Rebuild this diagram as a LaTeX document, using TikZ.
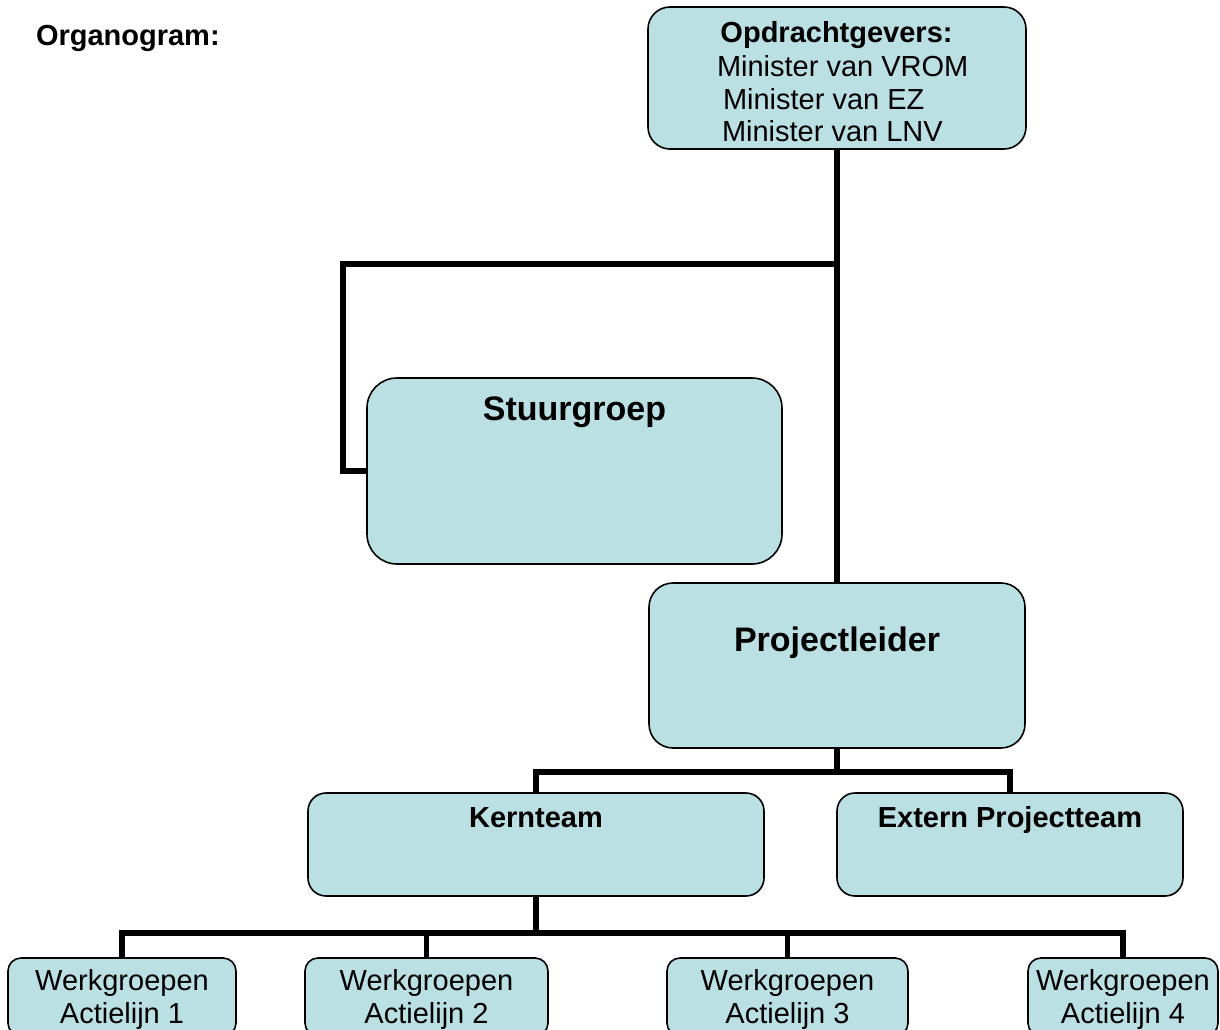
\documentclass[tikz,border=0pt]{standalone}
\usepackage{fontspec}
\setmainfont{Liberation Sans}
\definecolor{boxfill}{HTML}{BBE0E3}
\begin{document}
\begin{tikzpicture}[x=1pt,y=-1pt,
  box/.style={draw=black, line width=1.6pt, fill=boxfill, rounded corners=#1, inner sep=0pt, outer sep=0pt},
  box/.default=20pt,
  txt/.style={font=\fontsize{29}{33}\selectfont, inner sep=0pt, outer sep=0pt},
  bigtxt/.style={font=\fontsize{34}{40}\selectfont\bfseries, inner sep=0pt, outer sep=0pt},
  conn/.style={draw=black, line width=5.5pt, line join=miter}]
\useasboundingbox (0,0) rectangle (1220,1030);
\clip (0,0) rectangle (1220,1030);
\fill[white] (0,0) rectangle (1220,1030);

% title
\node[txt, anchor=base west] (title) at (36,46) {\bfseries Organogram:};

% boxes
\node[box=22pt, minimum width=378pt, minimum height=142pt] (opd) at (837,78) {};
\node[box=30pt, minimum width=415pt, minimum height=186pt] (stuur) at (574.5,471) {};
\node[box=24pt, minimum width=376pt, minimum height=165pt] (proj) at (837,665.5) {};
\node[box=18pt, minimum width=456pt, minimum height=103pt] (kern) at (536,844.5) {};
\node[box=18pt, minimum width=346pt, minimum height=103pt] (ext) at (1010,844.5) {};
\node[box=13pt, minimum width=228pt, minimum height=78pt] (wa1) at (122,997) {};
\node[box=13pt, minimum width=243pt, minimum height=78pt] (wa2) at (426.5,997) {};
\node[box=13pt, minimum width=241pt, minimum height=78pt] (wa3) at (787.5,997) {};
\node[box=13pt, minimum width=190pt, minimum height=78pt] (wa4) at (1123,997) {};

% texts
\node[txt, anchor=base] (opdt) at (836.5,43) {\bfseries Opdrachtgevers:};
\node[txt, anchor=base west] (opd1) at (717,77) {Minister van VROM};
\node[txt, anchor=base west] (opd2) at (723,110) {Minister van EZ};
\node[txt, anchor=base west] (opd3) at (722,142) {Minister van LNV};
\node[bigtxt, anchor=base] (stuurt) at (574.5,420) {Stuurgroep};
\node[bigtxt, anchor=base] (projt) at (837,651) {Projectleider};
\node[txt, anchor=base] (kernt) at (536,827) {\bfseries Kernteam};
\node[txt, anchor=base] (extt) at (1010,827) {\bfseries Extern Projectteam};
\node[txt, anchor=base] (wa1a) at (122,990) {Werkgroepen};
\node[txt, anchor=base] (wa1b) at (122,1023) {Actielijn 1};
\node[txt, anchor=base] (wa2a) at (426.5,990) {Werkgroepen};
\node[txt, anchor=base] (wa2b) at (426.5,1023) {Actielijn 2};
\node[txt, anchor=base] (wa3a) at (787.5,990) {Werkgroepen};
\node[txt, anchor=base] (wa3b) at (787.5,1023) {Actielijn 3};
\node[txt, anchor=base] (wa4a) at (1123,990) {Werkgroepen};
\node[txt, anchor=base] (wa4b) at (1123,1023) {Actielijn 4};

% connectors
\coordinate (j1) at (837,264);
\coordinate (sbend) at (343,264);
\coordinate (bus1) at (837,772);
\coordinate (bus2) at (536,933);
\draw[conn] (opd.south) -- (proj.north);
\draw[conn] (j1) -- (sbend) |- (stuur.west);
\draw[conn] (proj.south) -- (bus1);
\draw[conn] (kern.north) -- (kern.north |- bus1) -- (ext.north |- bus1) -- (ext.north);
\draw[conn] (kern.south) -- (bus2);
\draw[conn] (wa1.north) -- (wa1.north |- bus2) -- (wa4.north |- bus2) -- (wa4.north);
\draw[conn] (wa2.north) -- (wa2.north |- bus2);
\draw[conn] (wa3.north) -- (wa3.north |- bus2);
\end{tikzpicture}
\end{document}
